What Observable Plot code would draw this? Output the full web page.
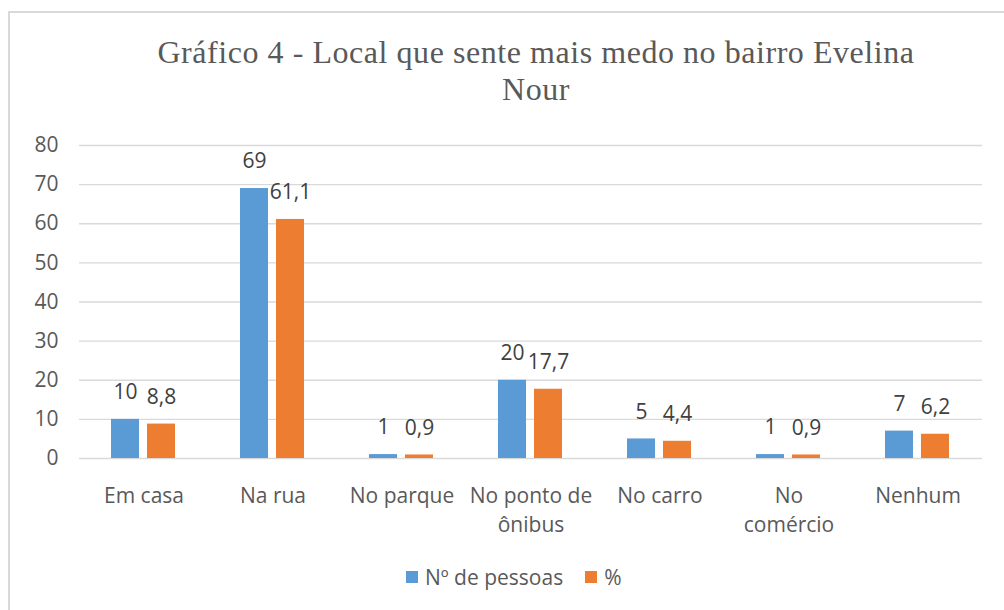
<!DOCTYPE html>
<html>
<head>
<meta charset="utf-8">
<script src="https://cdn.jsdelivr.net/npm/d3@7"></script>
<script src="https://cdn.jsdelivr.net/npm/@observablehq/plot@0.6"></script>
<style>
  html, body { margin: 0; padding: 0; background: #fff; overflow: hidden; }
  #wrap { position: relative; width: 1004px; height: 610px; overflow: hidden; }
  #frame { position: absolute; left: 8px; top: 11px; width: 1100px; height: 700px; border: 2px solid #d9d9d9; box-sizing: border-box; }
  #title { position: absolute; left: 36px; top: 34px; width: 1000px; text-align: center; letter-spacing: 0.55px;
           font-family: "Liberation Serif", "Times New Roman", serif; font-size: 32px; line-height: 37px; color: #595959; }
  #chart { position: absolute; left: 0; top: 120px; }
  #legend { position: absolute; left: 406px; top: 563px; display: flex; align-items: center;
            font-family: "Open Sans", sans-serif; font-size: 21px; color: #595959; }
  .sw { width: 12px; height: 12px; display: inline-block; margin-right: 7px; }
  .item { display: flex; align-items: center; margin-right: 22px; }
</style>
</head>
<body>
<div id="wrap">
  <div id="frame"></div>
  <div id="title">Gráfico 4 - Local que sente mais medo no bairro Evelina<br>Nour</div>
  <div id="chart"></div>
  <div id="legend"></div>
</div>
<script>
const categories = ["Em casa", "Na rua", "No parque", "No ponto de\nônibus", "No carro", "No\ncomércio", "Nenhum"];
const series = ["Nº de pessoas", "%"];
const pessoas = [10, 69, 1, 20, 5, 1, 7];
const percent = [8.8, 61.1, 0.9, 17.7, 4.4, 0.9, 6.2];
const colors = ["#5B9BD5", "#ED7D31"];
const yTicks = [0, 10, 20, 30, 40, 50, 60, 70, 80];

const data = [];
categories.forEach((c, i) => {
  data.push({cat: c, series: series[0], value: pessoas[i]});
  data.push({cat: c, series: series[1], value: percent[i]});
});
const fmt = v => String(v).replace(".", ",");

const chart = Plot.plot({
  width: 1004,
  height: 428,
  marginLeft: 76,
  marginRight: 19,
  marginTop: 25,
  marginBottom: 90,
  style: {fontFamily: "'Open Sans', sans-serif", fontSize: "21px", color: "#595959", background: "transparent"},
  fx: {domain: categories, padding: 0, label: null, axis: null},
  x: {domain: series, paddingInner: 0.216, paddingOuter: 0.865, axis: null},
  y: {domain: [0, 80], axis: null},
  color: {domain: series, range: colors},
  marks: [
    Plot.gridY(yTicks, {stroke: "#d9d9d9", strokeOpacity: 1, strokeWidth: 1.3}),
    Plot.axisY({ticks: yTicks, tickSize: 0, tickPadding: 21, label: null, fill: "#595959"}),
    Plot.axisFx({anchor: "bottom", tickSize: 0, tickPadding: 23, label: null, lineHeight: 1.42, fill: "#595959"}),
    Plot.barY(data, {fx: "cat", x: "series", y: "value", fill: "series"}),
    Plot.text(data, {fx: "cat", x: "series", y: "value", text: d => fmt(d.value), dy: -27, lineAnchor: "middle", fill: "#404040", fontSize: 21})
  ]
});
document.getElementById("chart").appendChild(chart);

const legend = document.getElementById("legend");
series.forEach((s, i) => {
  const it = document.createElement("div");
  it.className = "item";
  const sw = document.createElement("span");
  sw.className = "sw";
  sw.style.background = colors[i];
  it.appendChild(sw);
  it.appendChild(document.createTextNode(s));
  legend.appendChild(it);
});
</script>
</body>
</html>
